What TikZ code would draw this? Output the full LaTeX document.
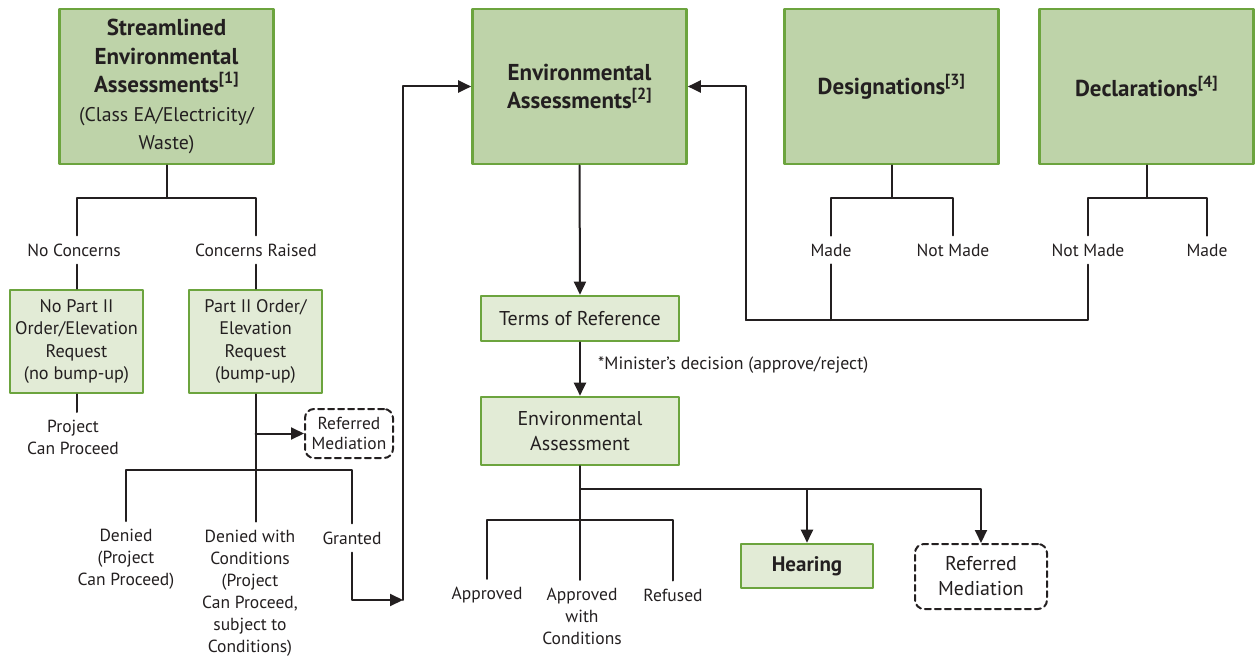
\documentclass[tikz,border=0pt]{standalone}
\usepackage{fontspec}
\setmainfont{PT Sans}
\usetikzlibrary{arrows.meta}
\definecolor{eadark}{RGB}{190,211,169}
\definecolor{ealight}{RGB}{226,235,214}
\definecolor{eaedge}{RGB}{108,164,62}
\definecolor{ink}{RGB}{35,31,32}
\newcommand{\classtext}[1]{{\mdseries\fontsize{19.8}{25}\selectfont #1}}
\tikzset{
  bigbox/.style={draw=eaedge,line width=2.6pt,fill=eadark,inner sep=0pt,minimum width=214pt,minimum height=155pt,align=center,text=ink,font=\bfseries\fontsize{23}{28.5}\selectfont},
  smallbox/.style={draw=eaedge,line width=2.6pt,fill=ealight,inner sep=0pt,align=center,text=ink,font=\fontsize{18.2}{22.5}\selectfont},
  dashbox/.style={draw=ink,dash pattern=on 6pt off 4pt,line width=2pt,rounded corners=9pt,inner sep=0pt,align=center,text=ink},
  lbl/.style={align=center,text=ink,inner sep=8pt,font=\fontsize{17.5}{22}\selectfont},
  conn/.style={draw=ink,line width=2pt},
}

\begin{document}
\begin{tikzpicture}[line cap=round,line join=round,>={Triangle[length=13pt,width=12pt]},x=1pt,y=-1pt]
\useasboundingbox (0,0) rectangle (1255,658);
% top row
\node [bigbox] (sea) at (166.5,86.5) {Streamlined\\Environmental\\Assessments\textsuperscript{[1]}\\\classtext{(Class EA/Electricity/}\\\classtext{Waste)}};
\node [bigbox] (ea) at (579.5,86.5) {Environmental\\Assessments\textsuperscript{[2]}};
\node [bigbox] (desig) at (891.5,86.5) {Designations\textsuperscript{[3]}};
\node [bigbox] (decl) at (1146.5,86.5) {Declarations\textsuperscript{[4]}};
% streamlined branch
\node [lbl] (nocon) at (74,250) {No Concerns};
\node [lbl] (conrais) at (256,250) {Concerns Raised};
\node [smallbox,minimum width=133pt,minimum height=103pt] (nopart) at (76.5,341.5) {No Part II\\Order/Elevation\\Request\\(no bump-up)};
\node [smallbox,minimum width=133pt,minimum height=103pt] (part) at (255.5,341.5) {Part II Order/\\Elevation\\Request\\(bump-up)};
\node [lbl] (proceed) at (73,437.5) {Project\\Can Proceed};
\node [dashbox,minimum width=88pt,minimum height=49pt,font=\fontsize{17.4}{19.5}\selectfont] (medl) at (349,433.5) {Referred\\Mediation};
\node [lbl] (denied) at (126,559.5) {Denied\\(Project\\Can Proceed)};
\node [lbl] (deniedc) at (250,593) {Denied with\\Conditions\\(Project\\Can Proceed,\\subject to\\Conditions)};
\node [lbl] (granted) at (352,538) {Granted};
% environmental assessment branch
\node [smallbox,minimum width=198pt,minimum height=45pt,font=\fontsize{20}{24}\selectfont] (tor) at (580,318.5) {Terms of Reference};
\node [smallbox,minimum width=198pt,minimum height=68pt,font=\fontsize{20}{25}\selectfont] (eassess) at (580,431) {Environmental\\Assessment};
\node [lbl,anchor=west,inner sep=0pt,font=\fontsize{17.8}{22}\selectfont] (minister) at (598,365) {*Minister’s decision (approve/reject)};
\node [lbl] (appr) at (487,595) {Approved};
\node [lbl] (apprc) at (582,616.5) {Approved\\with\\Conditions};
\node [lbl] (refused) at (673,595) {Refused};
\node [smallbox,minimum width=132pt,minimum height=44pt,font=\bfseries\fontsize{21}{24}\selectfont] (hearing) at (807,566) {Hearing};
\node [dashbox,minimum width=132pt,minimum height=65pt,font=\fontsize{20}{25}\selectfont] (medr) at (981,576.5) {Referred\\Mediation};
% designations and declarations
\node [lbl] (made1) at (831,250) {Made};
\node [lbl] (notmade1) at (953,250) {Not Made};
\node [lbl] (notmade2) at (1088,250) {Not Made};
\node [lbl] (made2) at (1207,250) {Made};
% junctions
\coordinate (j1) at (166.5,198);
\coordinate (j2) at (255.5,470);
\coordinate (gturn) at (403,600);
\coordinate (j4) at (580,520);
\coordinate (j5) at (580,489);
\coordinate (j6) at (891.5,198);
\coordinate (j7) at (1146.5,198);
\coordinate (back) at (746,320);
% connectors
\draw [conn] (sea.south) -- (j1);
\draw [conn] (nocon.north -| nopart.north) |- (j1) -| (conrais.north);
\draw [conn] (nopart.north |- nocon.south) -- (nopart.north);
\draw [conn] (part.north |- conrais.south) -- (part.north);
\draw [conn] (nopart.south) -- (nopart.south |- proceed.north);
\draw [conn] (part.south) -- (part.south |- deniedc.north);
\draw [conn,->] (part.south |- medl.west) -- (medl.west);
\draw [conn] (denied.north) |- (j2) -| (granted.north);
\draw [conn,->] (granted.south) |- (gturn);
\draw [conn,->] (gturn) |- (ea.west);
\draw [conn,->] (ea.south) -- (tor.north);
\draw [conn,->] (tor.south) -- (eassess.north);
\draw [conn,line width=2.8pt] (eassess.south) -- (j4);
\draw [conn] (j4) -- (j4 |- apprc.north);
\draw [conn] (appr.north) |- (j4) -| (refused.north);
\draw [conn,->] (j5) -| (hearing.north);
\draw [conn,->] (j5) -| (medr.north);
\draw [conn] (desig.south) -- (j6);
\draw [conn] (made1.north) |- (j6) -| (notmade1.north);
\draw [conn] (decl.south) -- (j7);
\draw [conn] (notmade2.north) |- (j7) -| (made2.north);
\draw [conn] (made1.south) -- (made1.south |- back);
\draw [conn] (notmade2.south) |- (back);
\draw [conn,->] (back) |- (ea.east);
\end{tikzpicture}
\end{document}
